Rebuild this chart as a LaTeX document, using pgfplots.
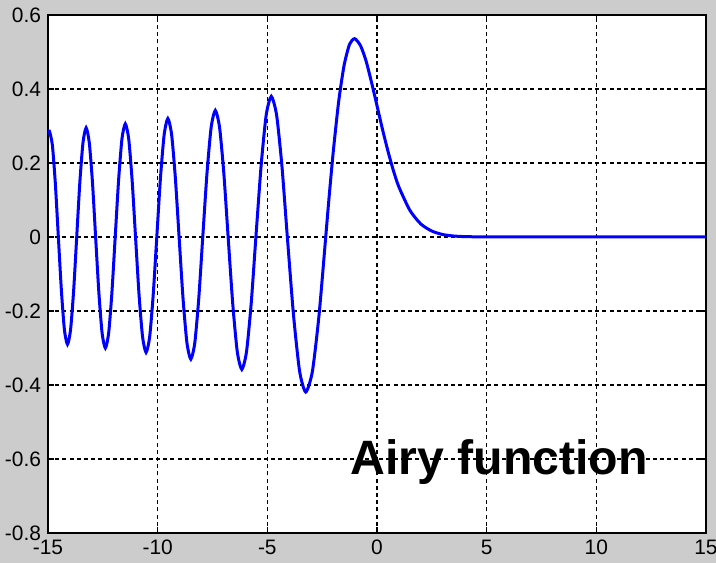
\documentclass[border=0pt]{standalone}
\usepackage{fontspec}
\setmainfont{Liberation Sans}
\usepackage{pgfplots}
\pgfplotsset{compat=1.18}
\definecolor{figgray}{RGB}{204,204,204}

\begin{document}
\begin{tikzpicture}
\fill[figgray] (-24bp,-15bp) rectangle (334bp,266.5bp);
\useasboundingbox (-24bp,-15bp) rectangle (334bp,266.5bp);
\begin{axis}[
    at={(0,0)}, anchor=south west,
    scale only axis,
    width=329bp, height=259bp,
    xmin=-15, xmax=15,
    ymin=-0.8, ymax=0.6,
    xtick={-15,-10,-5,0,5,10,15},
    ytick={-0.8,-0.6,-0.4,-0.2,0,0.2,0.4,0.6},
    yticklabels={-0.8,-0.6,-0.4,-0.2,0,0.2,0.4,0.6},
    /pgf/number format/assume math mode=true,
    ticklabel style={font=\fontsize{10.5}{12}\selectfont},
    axis background/.style={fill=white},
    axis line style={line width=0.8bp},
    tick style={black, line width=0.8bp},
    major tick length=3bp,
    tick align=inside,
    grid=major,
    grid style={black, line width=0.6bp, dash pattern=on 2bp off 1.6bp},
]
\addplot[blue, line width=1.5bp, smooth, tension=0.4] coordinates {
(-15,0.277) (-14.936,0.286) (-14.800,0.248) (-14.664,0.143) (-14.528,0)
(-14.389,-0.145) (-14.251,-0.251) (-14.112,-0.290) (-13.972,-0.251) (-13.831,-0.145)
(-13.691,0) (-13.548,0.148) (-13.405,0.255) (-13.262,0.295) (-13.118,0.255)
(-12.973,0.148) (-12.829,0) (-12.681,-0.150) (-12.533,-0.260) (-12.385,-0.300)
(-12.235,-0.260) (-12.086,-0.150) (-11.936,0) (-11.782,0.153) (-11.629,0.265)
(-11.475,0.306) (-11.320,0.265) (-11.164,0.153) (-11.009,0) (-10.849,-0.156)
(-10.688,-0.270) (-10.528,-0.312) (-10.365,-0.270) (-10.203,-0.156) (-10.040,0)
(-9.872,0.160) (-9.703,0.277) (-9.535,0.320) (-9.364,0.277) (-9.194,0.160)
(-9.023,0) (-8.845,-0.165) (-8.666,-0.286) (-8.488,-0.330) (-8.307,-0.286)
(-8.125,-0.165) (-7.944,0) (-7.753,0.171) (-7.563,0.296) (-7.372,0.342)
(-7.177,0.296) (-6.982,0.171) (-6.787,0) (-6.579,-0.179) (-6.371,-0.310)
(-6.163,-0.358) (-5.949,-0.310) (-5.735,-0.179) (-5.521,0) (-5.287,0.190)
(-5.054,0.329) (-4.820,0.380) (-4.576,0.329) (-4.332,0.190) (-4.088,0)
(-3.808,-0.210) (-3.528,-0.363) (-3.248,-0.419) (-2.945,-0.363) (-2.641,-0.210)
(-2.338,0) (-2.2,0.097) (-2,0.227) (-1.75,0.365) (-1.5,0.464)
(-1.25,0.521) (-1.019,0.536) (-0.75,0.517) (-0.5,0.476) (-0.25,0.418)
(0,0.355) (0.25,0.291) (0.5,0.232) (0.75,0.179) (1,0.135)
(1.5,0.072) (2,0.035) (2.5,0.016) (3,0.0066) (3.5,0.0026)
(4,0.001) (5,0.0001) (6,0) (10,0) (15,0)
};
\node[anchor=base west, inner sep=0pt, font=\fontsize{24.2}{28}\selectfont\bfseries]
  at (axis cs:-1.23,-0.643) {Airy function};
\end{axis}
\end{tikzpicture}
\end{document}
